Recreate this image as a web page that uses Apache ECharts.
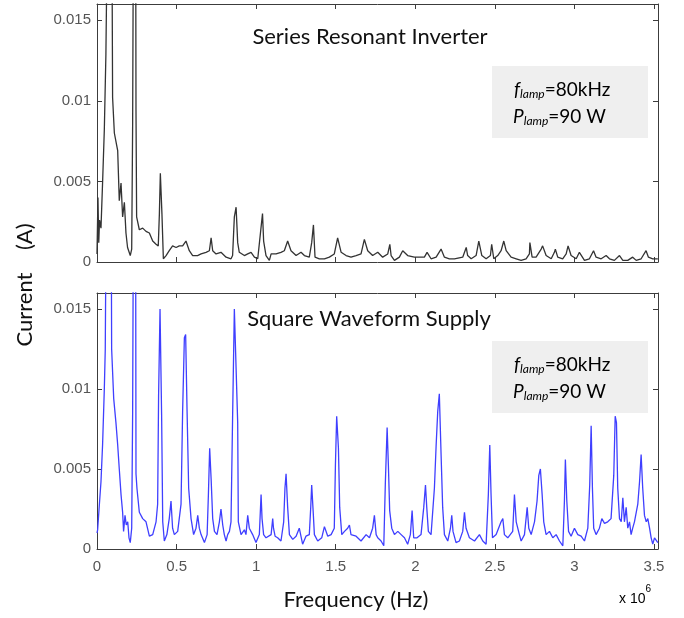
<!DOCTYPE html>
<html>
<head>
<meta charset="utf-8">
<script src="https://cdn.jsdelivr.net/npm/echarts@6/dist/echarts.min.js"></script>
<style>
html, body { margin: 0; padding: 0; background: #fff; }
#chart { width: 684px; height: 618px; }
</style>
</head>
<body>
<div id="chart"></div>
<script>
// Frequency in units of 1e6 Hz, current amplitude in A.
const panelTitles = ['Series Resonant Inverter', 'Square Waveform Supply'];
const lampFrequencyText = '80kHz';
const lampPowerText = '90 W';
const xTickStep = 0.5;
const yTickStep = 0.005;

const resonantSpectrum = [
  [0.000,0.0005],[0.006,0.0040],[0.011,0.0012],[0.016,0.0026],[0.025,0.0021],[0.035,0.0049],
  [0.046,0.0082],[0.056,0.0129],[0.064,0.0200],[0.080,0.0320],[0.094,0.0200],[0.098,0.0102],
  [0.109,0.0080],[0.130,0.0069],[0.140,0.0038],[0.151,0.0049],[0.161,0.0028],[0.172,0.0037],
  [0.182,0.0018],[0.192,0.0009],[0.209,0.0004],[0.218,0.0008],[0.224,0.0086],[0.232,0.0300],
  [0.240,0.0400],[0.245,0.0094],[0.249,0.0028],[0.266,0.0020],[0.287,0.0021],[0.308,0.0019],
  [0.329,0.0018],[0.350,0.0013],[0.371,0.0011],[0.385,0.0010],[0.392,0.0030],[0.398,0.0055],
  [0.408,0.0030],[0.417,0.0002],[0.434,0.0004],[0.454,0.0007],[0.475,0.0010],[0.497,0.0009],
  [0.517,0.0010],[0.538,0.0010],[0.559,0.0013],[0.580,0.0007],[0.601,0.0004],[0.632,0.0004],
  [0.654,0.0005],[0.685,0.0006],[0.706,0.0007],[0.717,0.0015],[0.727,0.0007],[0.748,0.0005],
  [0.779,0.0006],[0.811,0.0003],[0.842,0.0002],[0.852,0.0004],[0.863,0.0028],[0.874,0.0034],
  [0.884,0.0012],[0.894,0.0006],[0.905,0.0007],[0.926,0.0004],[0.947,0.0005],[0.968,0.0006],
  [0.989,0.0003],[1.010,0.0002],[1.026,0.0017],[1.040,0.0030],[1.047,0.0013],[1.062,0.0004],
  [1.083,0.0001],[1.094,0.0005],[1.125,0.0005],[1.156,0.0006],[1.177,0.0007],[1.198,0.0013],
  [1.219,0.0007],[1.251,0.0004],[1.282,0.0006],[1.303,0.0004],[1.334,0.0003],[1.349,0.0012],
  [1.360,0.0023],[1.370,0.0003],[1.397,0.0002],[1.429,0.0002],[1.460,0.0003],[1.491,0.0005],
  [1.512,0.0015],[1.520,0.0016],[1.534,0.0006],[1.565,0.0004],[1.596,0.0003],[1.628,0.0004],
  [1.659,0.0005],[1.680,0.0014],[1.701,0.0007],[1.732,0.0004],[1.764,0.0006],[1.795,0.0003],
  [1.827,0.0005],[1.840,0.0011],[1.848,0.0004],[1.869,0.0001],[1.900,0.0003],[1.921,0.0007],
  [1.952,0.0004],[1.994,0.0003],[2.026,0.0003],[2.057,0.0003],[2.074,0.0006],[2.099,0.0002],
  [2.131,0.0003],[2.162,0.0008],[2.183,0.0003],[2.214,0.0002],[2.246,0.0002],[2.298,0.0003],
  [2.320,0.0009],[2.329,0.0004],[2.351,0.0002],[2.382,0.0004],[2.399,0.0013],[2.405,0.0014],
  [2.418,0.0004],[2.445,0.0002],[2.472,0.0004],[2.480,0.0011],[2.493,0.0002],[2.518,0.0004],
  [2.539,0.0007],[2.556,0.0013],[2.571,0.0007],[2.602,0.0003],[2.634,0.0002],[2.665,0.0001],
  [2.696,0.0002],[2.717,0.0005],[2.720,0.0012],[2.734,0.0003],[2.759,0.0003],[2.791,0.0008],
  [2.800,0.0010],[2.822,0.0004],[2.854,0.0002],[2.874,0.0006],[2.880,0.0008],[2.895,0.0003],
  [2.926,0.0002],[2.948,0.0005],[2.960,0.0010],[2.979,0.0004],[3.011,0.0002],[3.031,0.0006],
  [3.040,0.0007],[3.063,0.0001],[3.094,0.0002],[3.120,0.0007],[3.136,0.0003],[3.168,0.0002],
  [3.199,0.0004],[3.220,0.0002],[3.251,0.0001],[3.283,0.0004],[3.304,0.0001],[3.335,0.0001],
  [3.366,0.0003],[3.388,0.0001],[3.419,0.0002],[3.450,0.0007],[3.465,0.0003],[3.492,0.0002],
  [3.524,0.0002]
];

const squareSpectrum = [
  [0.000,0.0010],[0.004,0.0012],[0.015,0.0028],[0.025,0.0042],[0.035,0.0065],[0.046,0.0100],
  [0.052,0.0125],[0.060,0.0250],[0.075,0.0400],[0.088,0.0250],[0.092,0.0125],[0.105,0.0094],
  [0.119,0.0079],[0.130,0.0065],[0.140,0.0050],[0.151,0.0034],[0.161,0.0023],[0.167,0.0011],
  [0.176,0.0021],[0.184,0.0015],[0.193,0.0017],[0.201,0.0007],[0.209,0.0004],[0.218,0.0013],
  [0.224,0.0086],[0.232,0.0300],[0.240,0.0400],[0.245,0.0047],[0.251,0.0038],[0.266,0.0023],
  [0.287,0.0019],[0.308,0.0017],[0.329,0.0008],[0.350,0.0009],[0.371,0.0017],[0.381,0.0028],
  [0.387,0.0096],[0.396,0.0150],[0.406,0.0084],[0.413,0.0017],[0.423,0.0005],[0.439,0.0009],
  [0.454,0.0019],[0.465,0.0030],[0.475,0.0013],[0.486,0.0009],[0.507,0.0011],[0.528,0.0028],
  [0.538,0.0086],[0.549,0.0132],[0.557,0.0134],[0.566,0.0086],[0.576,0.0038],[0.591,0.0019],
  [0.607,0.0009],[0.622,0.0013],[0.633,0.0021],[0.643,0.0013],[0.654,0.0009],[0.675,0.0004],
  [0.692,0.0009],[0.700,0.0034],[0.708,0.0063],[0.717,0.0044],[0.727,0.0019],[0.738,0.0011],
  [0.754,0.0009],[0.769,0.0017],[0.779,0.0025],[0.790,0.0015],[0.800,0.0009],[0.811,0.0005],
  [0.821,0.0009],[0.832,0.0011],[0.842,0.0017],[0.852,0.0082],[0.863,0.0150],[0.874,0.0150],
  [0.884,0.0079],[0.888,0.0017],[0.905,0.0009],[0.926,0.0012],[0.936,0.0009],[0.947,0.0021],
  [0.957,0.0013],[0.978,0.0009],[0.999,0.0004],[1.020,0.0009],[1.031,0.0034],[1.037,0.0019],
  [1.047,0.0009],[1.062,0.0007],[1.094,0.0009],[1.104,0.0019],[1.109,0.0013],[1.119,0.0008],
  [1.135,0.0007],[1.156,0.0005],[1.173,0.0017],[1.181,0.0038],[1.188,0.0047],[1.198,0.0026],
  [1.209,0.0009],[1.230,0.0006],[1.251,0.0008],[1.271,0.0013],[1.292,0.0003],[1.313,0.0008],
  [1.334,0.0009],[1.343,0.0026],[1.349,0.0040],[1.358,0.0024],[1.366,0.0009],[1.387,0.0005],
  [1.412,0.0007],[1.429,0.0014],[1.450,0.0008],[1.471,0.0009],[1.491,0.0013],[1.498,0.0052],
  [1.506,0.0083],[1.517,0.0063],[1.525,0.0026],[1.538,0.0009],[1.555,0.0011],[1.575,0.0013],
  [1.586,0.0015],[1.596,0.0009],[1.628,0.0008],[1.659,0.0005],[1.691,0.0009],[1.712,0.0007],
  [1.732,0.0013],[1.743,0.0021],[1.754,0.0009],[1.764,0.0007],[1.785,0.0005],[1.802,0.0002],
  [1.812,0.0042],[1.823,0.0076],[1.831,0.0052],[1.839,0.0024],[1.852,0.0013],[1.869,0.0009],
  [1.890,0.0011],[1.911,0.0009],[1.932,0.0007],[1.952,0.0003],[1.969,0.0009],[1.980,0.0024],
  [1.990,0.0007],[2.011,0.0007],[2.036,0.0009],[2.053,0.0026],[2.064,0.0040],[2.072,0.0026],
  [2.082,0.0011],[2.099,0.0009],[2.120,0.0038],[2.131,0.0065],[2.141,0.0086],[2.151,0.0097],
  [2.162,0.0059],[2.172,0.0026],[2.183,0.0009],[2.204,0.0005],[2.221,0.0013],[2.229,0.0021],
  [2.237,0.0011],[2.256,0.0004],[2.277,0.0005],[2.298,0.0011],[2.309,0.0023],[2.319,0.0013],
  [2.340,0.0007],[2.372,0.0005],[2.403,0.0009],[2.424,0.0005],[2.445,0.0003],[2.459,0.0034],
  [2.468,0.0065],[2.476,0.0034],[2.485,0.0007],[2.508,0.0009],[2.539,0.0017],[2.550,0.0019],
  [2.560,0.0009],[2.581,0.0007],[2.612,0.0011],[2.623,0.0034],[2.634,0.0017],[2.654,0.0009],
  [2.665,0.0005],[2.686,0.0009],[2.703,0.0026],[2.713,0.0013],[2.728,0.0009],[2.749,0.0017],
  [2.765,0.0030],[2.776,0.0046],[2.786,0.0050],[2.797,0.0034],[2.807,0.0017],[2.822,0.0009],
  [2.843,0.0011],[2.864,0.0007],[2.885,0.0009],[2.906,0.0005],[2.927,0.0002],[2.937,0.0030],
  [2.943,0.0056],[2.952,0.0030],[2.963,0.0011],[2.979,0.0008],[3.000,0.0013],[3.021,0.0009],
  [3.042,0.0008],[3.063,0.0005],[3.084,0.0013],[3.096,0.0040],[3.105,0.0077],[3.113,0.0038],
  [3.121,0.0013],[3.136,0.0009],[3.157,0.0013],[3.172,0.0019],[3.189,0.0016],[3.209,0.0017],
  [3.230,0.0019],[3.247,0.0046],[3.256,0.0083],[3.264,0.0079],[3.272,0.0038],[3.283,0.0019],
  [3.294,0.0017],[3.304,0.0032],[3.314,0.0017],[3.325,0.0026],[3.335,0.0013],[3.346,0.0017],
  [3.356,0.0009],[3.366,0.0013],[3.377,0.0017],[3.398,0.0028],[3.409,0.0042],[3.419,0.0059],
  [3.429,0.0038],[3.440,0.0021],[3.451,0.0017],[3.461,0.0019],[3.472,0.0013],[3.482,0.0007],
  [3.492,0.0003],[3.503,0.0007],[3.524,0.0004]
];

const X_MAX = 3.525;
const Y_MAX = 0.016;
const FRAME = '#3c3c3c';
const TICK_LABEL = '#555';
const SANS = 'Lato, "Noto Sans", sans-serif';
const TICK_FONT = '"Liberation Sans", Arial, sans-serif';

function xAxisFor(gridIndex, position, withLabels) {
  return {
    type: 'value', gridIndex, position, min: 0, max: X_MAX, interval: xTickStep,
    axisLine: { show: true, onZero: false, lineStyle: { color: FRAME, width: 1 } },
    axisTick: { show: true, inside: true, length: 5, lineStyle: { color: FRAME } },
    splitLine: { show: false },
    axisLabel: withLabels ? {
      show: true, color: TICK_LABEL, fontSize: 15, margin: 10,
      fontFamily: TICK_FONT, showMaxLabel: false
    } : { show: false }
  };
}

function yAxisFor(gridIndex, position, withLabels) {
  return {
    type: 'value', gridIndex, position, min: 0, max: Y_MAX, interval: yTickStep,
    axisLine: { show: true, onZero: false, lineStyle: { color: FRAME, width: 1 } },
    axisTick: { show: true, inside: true, length: 5, lineStyle: { color: FRAME } },
    splitLine: { show: false },
    axisLabel: withLabels ? {
      show: true, color: TICK_LABEL, fontSize: 15, margin: 6,
      fontFamily: TICK_FONT, showMaxLabel: false
    } : { show: false }
  };
}

// One line of "symbol_lamp=value" with an italic symbol and subscript.
function symbolLine(symbol, value, left, top) {
  const main = { fontSize: 19, fontFamily: SANS, color: '#111', lineHeight: 20, verticalAlign: 'top' };
  return {
    type: 'text', left: left, top: top, z: 3,
    style: {
      text: '{i|' + symbol + '}{s|lamp}{n|=' + value + '}',
      rich: {
        i: Object.assign({}, main, { fontStyle: 'italic' }),
        s: { fontSize: 12, fontFamily: SANS, fontStyle: 'italic', color: '#111', lineHeight: 12, verticalAlign: 'bottom' },
        n: main
      }
    }
  };
}

// Grey annotation box with the lamp operating point.
function infoBox(top) {
  return [
    { type: 'rect', left: 492, top: top, shape: { width: 156, height: 72 }, style: { fill: '#efefef' }, z: 1 },
    symbolLine('f', lampFrequencyText, 514, top + 14),
    symbolLine('P', lampPowerText, 513, top + 41)
  ];
}

const chart = echarts.init(document.getElementById('chart'), null, { renderer: 'canvas' });

chart.setOption({
  backgroundColor: '#fff',
  animation: false,
  grid: [
    { left: 97, top: 4, width: 561, height: 258 },
    { left: 97, top: 293, width: 561, height: 256 }
  ],
  xAxis: [
    xAxisFor(0, 'bottom', false), xAxisFor(0, 'top', false),
    xAxisFor(1, 'bottom', true), xAxisFor(1, 'top', false)
  ],
  yAxis: [
    yAxisFor(0, 'left', true), yAxisFor(0, 'right', false),
    yAxisFor(1, 'left', true), yAxisFor(1, 'right', false)
  ],
  series: [
    {
      type: 'line', xAxisIndex: 0, yAxisIndex: 0, data: resonantSpectrum,
      symbol: 'none', clip: true, z: 2,
      lineStyle: { color: '#333333', width: 1.3 }
    },
    {
      type: 'line', xAxisIndex: 2, yAxisIndex: 2, data: squareSpectrum,
      symbol: 'none', clip: true, z: 2,
      lineStyle: { color: '#3f3fff', width: 1.3 }
    }
  ],
  graphic: [
    ...infoBox(66),
    ...infoBox(341),
    {
      type: 'text', x: 370, y: 37, z: 3,
      style: { text: panelTitles[0], fontSize: 22, fontFamily: SANS, fill: '#111', align: 'center', verticalAlign: 'middle' }
    },
    {
      type: 'text', x: 369, y: 319, z: 3,
      style: { text: panelTitles[1], fontSize: 22, fontFamily: SANS, fill: '#111', align: 'center', verticalAlign: 'middle' }
    },
    {
      type: 'text', x: 25, y: 285, rotation: Math.PI / 2, z: 3,
      style: { text: 'Current    (A)', fontSize: 22, fontFamily: SANS, fill: '#111', align: 'center', verticalAlign: 'middle' }
    },
    {
      type: 'text', x: 356, y: 600, z: 3,
      style: { text: 'Frequency (Hz)', fontSize: 22, fontFamily: SANS, fill: '#111', align: 'center', verticalAlign: 'middle' }
    },
    {
      type: 'text', left: 619, top: 584, z: 3,
      style: {
        text: '{a|x 10}{b|6}',
        rich: {
          a: { fontSize: 14, fontFamily: TICK_FONT, color: '#666', lineHeight: 22, verticalAlign: 'bottom' },
          b: { fontSize: 10, fontFamily: TICK_FONT, color: '#666', lineHeight: 12, verticalAlign: 'top' }
        }
      }
    }
  ]
});
</script>
</body>
</html>
